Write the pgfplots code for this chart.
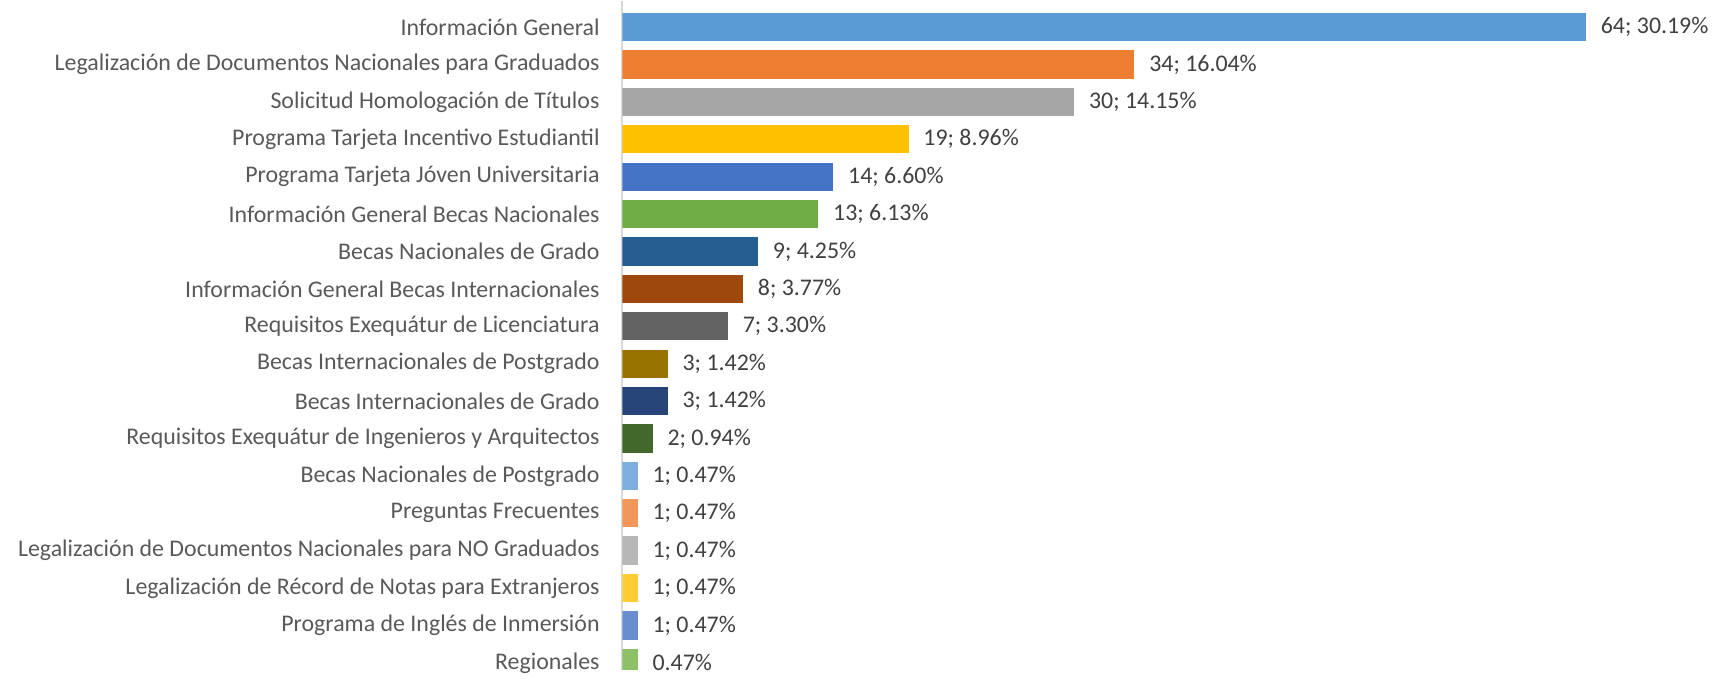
\documentclass[border=0pt]{standalone}
\usepackage{fontspec}
\setmainfont{Carlito}
\usepackage{pgfplots}
\pgfplotsset{compat=1.18}
\definecolor{c1}{HTML}{5B9BD5}
\definecolor{c2}{HTML}{ED7D31}
\definecolor{c3}{HTML}{A5A5A5}
\definecolor{c4}{HTML}{FFC000}
\definecolor{c5}{HTML}{4472C4}
\definecolor{c6}{HTML}{70AD47}
\definecolor{c7}{HTML}{255E91}
\definecolor{c8}{HTML}{9E480E}
\definecolor{c9}{HTML}{636363}
\definecolor{c10}{HTML}{997300}
\definecolor{c11}{HTML}{264478}
\definecolor{c12}{HTML}{43682B}
\definecolor{c13}{HTML}{7CAFDD}
\definecolor{c14}{HTML}{F1975A}
\definecolor{c15}{HTML}{B7B7B7}
\definecolor{c16}{HTML}{FFCD33}
\definecolor{c17}{HTML}{698ED0}
\definecolor{c18}{HTML}{8CC168}
\definecolor{tickgray}{HTML}{595959}
\definecolor{labgray}{HTML}{404040}
\definecolor{axgray}{HTML}{D9D9D9}
\newcommand{\semi}{;}
\begin{document}
\begin{tikzpicture}
\begin{axis}[
    scale only axis,
    width=547pt, height=336pt,
    xmin=0, xmax=72.3,
    ymin=-0.70, ymax=17.18,
    y dir=reverse,
    hide x axis,
    axis y line*=left,
    y axis line style={draw=axgray, line width=1pt, -},
    ytick={0,...,17},
    yticklabels={
        Información General,
        Legalización de Documentos Nacionales para Graduados,
        Solicitud Homologación de Títulos,
        Programa Tarjeta Incentivo Estudiantil,
        Programa Tarjeta Jóven Universitaria,
        Información General Becas Nacionales,
        Becas Nacionales de Grado,
        Información General Becas Internacionales,
        Requisitos Exequátur de Licenciatura,
        Becas Internacionales de Postgrado,
        Becas Internacionales de Grado,
        Requisitos Exequátur de Ingenieros y Arquitectos,
        Becas Nacionales de Postgrado,
        Preguntas Frecuentes,
        Legalización de Documentos Nacionales para NO Graduados,
        Legalización de Récord de Notas para Extranjeros,
        Programa de Inglés de Inmersión,
        Regionales},
    major tick length=0pt,
    yticklabel style={font=\fontsize{12}{14}\selectfont, text=tickgray, xshift=-8pt,
        execute at begin node={\hbox to 298pt\bgroup\hfil},
        execute at end node={\egroup}},
    xbar, bar width=14.2pt, bar shift=0pt,
    nodes near coords,
    point meta=explicit symbolic,
    every node near coord/.append style={font=\fontsize{12}{14}\selectfont, text=labgray, anchor=west, xshift=4pt},
]
\addplot[fill=c1, draw=none] coordinates {(64,0) [{64\semi{} 30.19\%}]};
\addplot[fill=c2, draw=none] coordinates {(34,1) [{34\semi{} 16.04\%}]};
\addplot[fill=c3, draw=none] coordinates {(30,2) [{30\semi{} 14.15\%}]};
\addplot[fill=c4, draw=none] coordinates {(19,3) [{19\semi{} 8.96\%}]};
\addplot[fill=c5, draw=none] coordinates {(14,4) [{14\semi{} 6.60\%}]};
\addplot[fill=c6, draw=none] coordinates {(13,5) [{13\semi{} 6.13\%}]};
\addplot[fill=c7, draw=none] coordinates {(9,6) [{9\semi{} 4.25\%}]};
\addplot[fill=c8, draw=none] coordinates {(8,7) [{8\semi{} 3.77\%}]};
\addplot[fill=c9, draw=none] coordinates {(7,8) [{7\semi{} 3.30\%}]};
\addplot[fill=c10, draw=none] coordinates {(3,9) [{3\semi{} 1.42\%}]};
\addplot[fill=c11, draw=none] coordinates {(3,10) [{3\semi{} 1.42\%}]};
\addplot[fill=c12, draw=none] coordinates {(2,11) [{2\semi{} 0.94\%}]};
\addplot[fill=c13, draw=none] coordinates {(1,12) [{1\semi{} 0.47\%}]};
\addplot[fill=c14, draw=none] coordinates {(1,13) [{1\semi{} 0.47\%}]};
\addplot[fill=c15, draw=none] coordinates {(1,14) [{1\semi{} 0.47\%}]};
\addplot[fill=c16, draw=none] coordinates {(1,15) [{1\semi{} 0.47\%}]};
\addplot[fill=c17, draw=none] coordinates {(1,16) [{1\semi{} 0.47\%}]};
\addplot[fill=c18, draw=none] coordinates {(1,17) [{0.47\%}]};
\end{axis}
\end{tikzpicture}
\end{document}
